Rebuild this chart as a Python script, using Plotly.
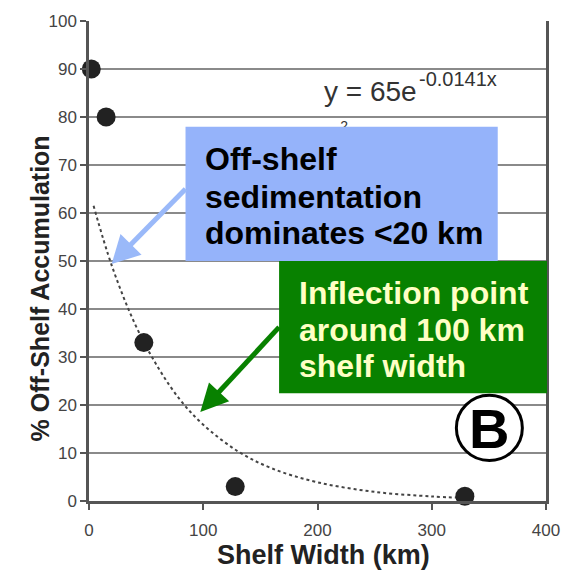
import math
import plotly.graph_objects as go

# ---- data ----
shelf_width_km = [2, 15, 48, 128, 329]
off_shelf_pct = [90, 80, 33, 3, 1]

# exponential trendline (y = 65e^-0.0141x)
trend_x = [4, 20, 40, 60, 80, 100, 130, 160, 200, 250, 300, 325]
trend_y = [61.5, 49.0, 37.0, 28.0, 21.0, 15.9, 10.4, 6.8, 3.9, 1.9, 0.95, 0.66]

x_ticks = [0, 100, 200, 300, 400]
y_ticks = [0, 10, 20, 30, 40, 50, 60, 70, 80, 90, 100]

equation_main = "y = 65e"
equation_exp = "-0.0141x"
r2_fragment = "2"
blue_text = ["Off-shelf", "sedimentation", "dominates &lt;20 km"]
green_text = ["Inflection point", "around 100 km", "shelf width"]
panel_label = "B"

FONT = "Liberation Sans, Arial, sans-serif"

# ---- layout geometry (pixels) ----
W, H = 572, 576
L, R, T, B = 89, 553, 15, 501


def px(xp):
    return (xp - L) / (R - L)


def py(yp):
    return (B - yp) / (B - T)


def dx(xp):
    return (xp - L) / (R - L) * 400


def dy(yp):
    return (B - yp) / (B - T) * 100


def arrow_shapes(tail, tip, color, width=5, head_len=28, head_half=15):
    (x0, y0), (x1, y1) = tail, tip
    d = math.hypot(x1 - x0, y1 - y0)
    ux, uy = (x1 - x0) / d, (y1 - y0) / d
    bx, by = x1 - ux * head_len, y1 - uy * head_len
    nx, ny = -uy, ux
    c1 = (bx + nx * head_half, by + ny * head_half)
    c2 = (bx - nx * head_half, by - ny * head_half)
    line = dict(type="line", xref="paper", yref="paper",
                x0=px(x0), y0=py(y0), x1=px(bx + ux * 2), y1=py(by + uy * 2),
                line=dict(color=color, width=width), layer="above")
    path = "M {:.5f} {:.5f} L {:.5f} {:.5f} L {:.5f} {:.5f} Z".format(
        px(x1), py(y1), px(c1[0]), py(c1[1]), px(c2[0]), py(c2[1]))
    head = dict(type="path", xref="paper", yref="paper", path=path,
                fillcolor=color, line=dict(color=color, width=0), layer="above")
    return [line, head]


fig = go.Figure()

# partially hidden R² line of the trendline label (sits under the blue box)
fig.add_trace(go.Scatter(
    x=[dx(348)], y=[dy(123)], mode="text", text=[r2_fragment],
    textfont=dict(family=FONT, size=14, color="#333333"),
    hoverinfo="skip", showlegend=False, cliponaxis=False,
))
fig.add_trace(go.Scatter(
    x=trend_x, y=trend_y, mode="lines", line_shape="spline",
    line=dict(color="#444444", width=2, dash="dot"),
    hoverinfo="skip", showlegend=False,
))
fig.add_trace(go.Scatter(
    x=shelf_width_km, y=off_shelf_pct, mode="markers",
    marker=dict(size=19, color="#222222"),
    cliponaxis=False, showlegend=False,
))

shapes = [
    dict(type="rect", xref="paper", yref="paper",
         x0=px(187), x1=px(504), y0=py(258), y1=py(122),
         fillcolor="#95B3FA", line=dict(width=0), layer="above"),
    dict(type="rect", xref="paper", yref="paper",
         x0=px(282), x1=px(554), y0=py(392), y1=py(258),
         fillcolor="#088100", line=dict(width=0), layer="above"),
    dict(type="circle", xref="paper", yref="paper",
         x0=px(462), x1=px(529), y0=py(460), y1=py(394),
         fillcolor="white", line=dict(color="black", width=3), layer="above"),
]
shapes += arrow_shapes((187, 185), (112, 261), "#9AB9F9")
shapes += arrow_shapes((282, 325), (202, 411), "#088100", head_half=14)

annotations = [
    dict(xref="paper", yref="paper", x=px(326), y=py(86), xanchor="left", yanchor="middle",
         text=equation_main, showarrow=False, font=dict(family=FONT, size=28, color="#333333")),
    dict(xref="paper", yref="paper", x=px(422), y=py(74), xanchor="left", yanchor="middle",
         text=equation_exp, showarrow=False, font=dict(family=FONT, size=20, color="#333333")),
]

blue_rows = [155, 193, 230]
for txt, yc in zip(blue_text, blue_rows):
    annotations.append(dict(
        xref="paper", yref="paper", x=px(205), y=py(yc), xanchor="left", yanchor="middle",
        text="<b>" + txt + "</b>", showarrow=False,
        font=dict(family=FONT, size=32, color="black")))

green_rows = [290, 328, 364]
for txt, yc in zip(green_text, green_rows):
    annotations.append(dict(
        xref="paper", yref="paper", x=px(300), y=py(yc), xanchor="left", yanchor="middle",
        text="<b>" + txt + "</b>", showarrow=False,
        font=dict(family=FONT, size=32, color="#FFFFC4")))

annotations += [
    # panel label
    dict(xref="paper", yref="paper", x=px(495.5), y=py(428), xanchor="center", yanchor="middle",
         text="<b>" + panel_label + "</b>", showarrow=False,
         font=dict(family=FONT, size=56, color="black")),
    # axis titles
    dict(xref="paper", yref="paper", x=px(327), y=py(556), xanchor="center", yanchor="middle",
         text="<b>Shelf Width (km)</b>", showarrow=False,
         font=dict(family=FONT, size=27, color="#222222")),
    dict(xref="paper", yref="paper", x=px(39), y=py(286), xanchor="center", yanchor="middle",
         text="<b>% Off-Shelf Accumulation</b>", textangle=-90, showarrow=False,
         font=dict(family=FONT, size=25, color="#222222")),
]

fig.update_layout(
    width=W, height=H,
    margin=dict(l=L, r=W - R, t=T, b=H - B),
    paper_bgcolor="white", plot_bgcolor="white",
    shapes=shapes, annotations=annotations,
    font=dict(family=FONT),
)
fig.update_xaxes(
    range=[0, 400], tickvals=x_ticks, ticktext=[str(v) for v in x_ticks],
    showgrid=False, zeroline=False, showline=True, linecolor="#555555", linewidth=2.5,
    ticks="outside", ticklen=6, tickwidth=2, tickcolor="#555555", ticklabelstandoff=6,
    tickfont=dict(family=FONT, size=17, color="#444444"),
)
fig.update_yaxes(
    range=[0, 100], tickvals=y_ticks, ticktext=[str(v) for v in y_ticks],
    showgrid=True, gridcolor="#8a8a8a", gridwidth=2, zeroline=False,
    showline=True, linecolor="#555555", linewidth=2.5, mirror=True,
    ticks="outside", ticklen=6, tickwidth=2, tickcolor="#555555",
    tickfont=dict(family=FONT, size=17, color="#444444"),
)

fig.write_html("out.html")
